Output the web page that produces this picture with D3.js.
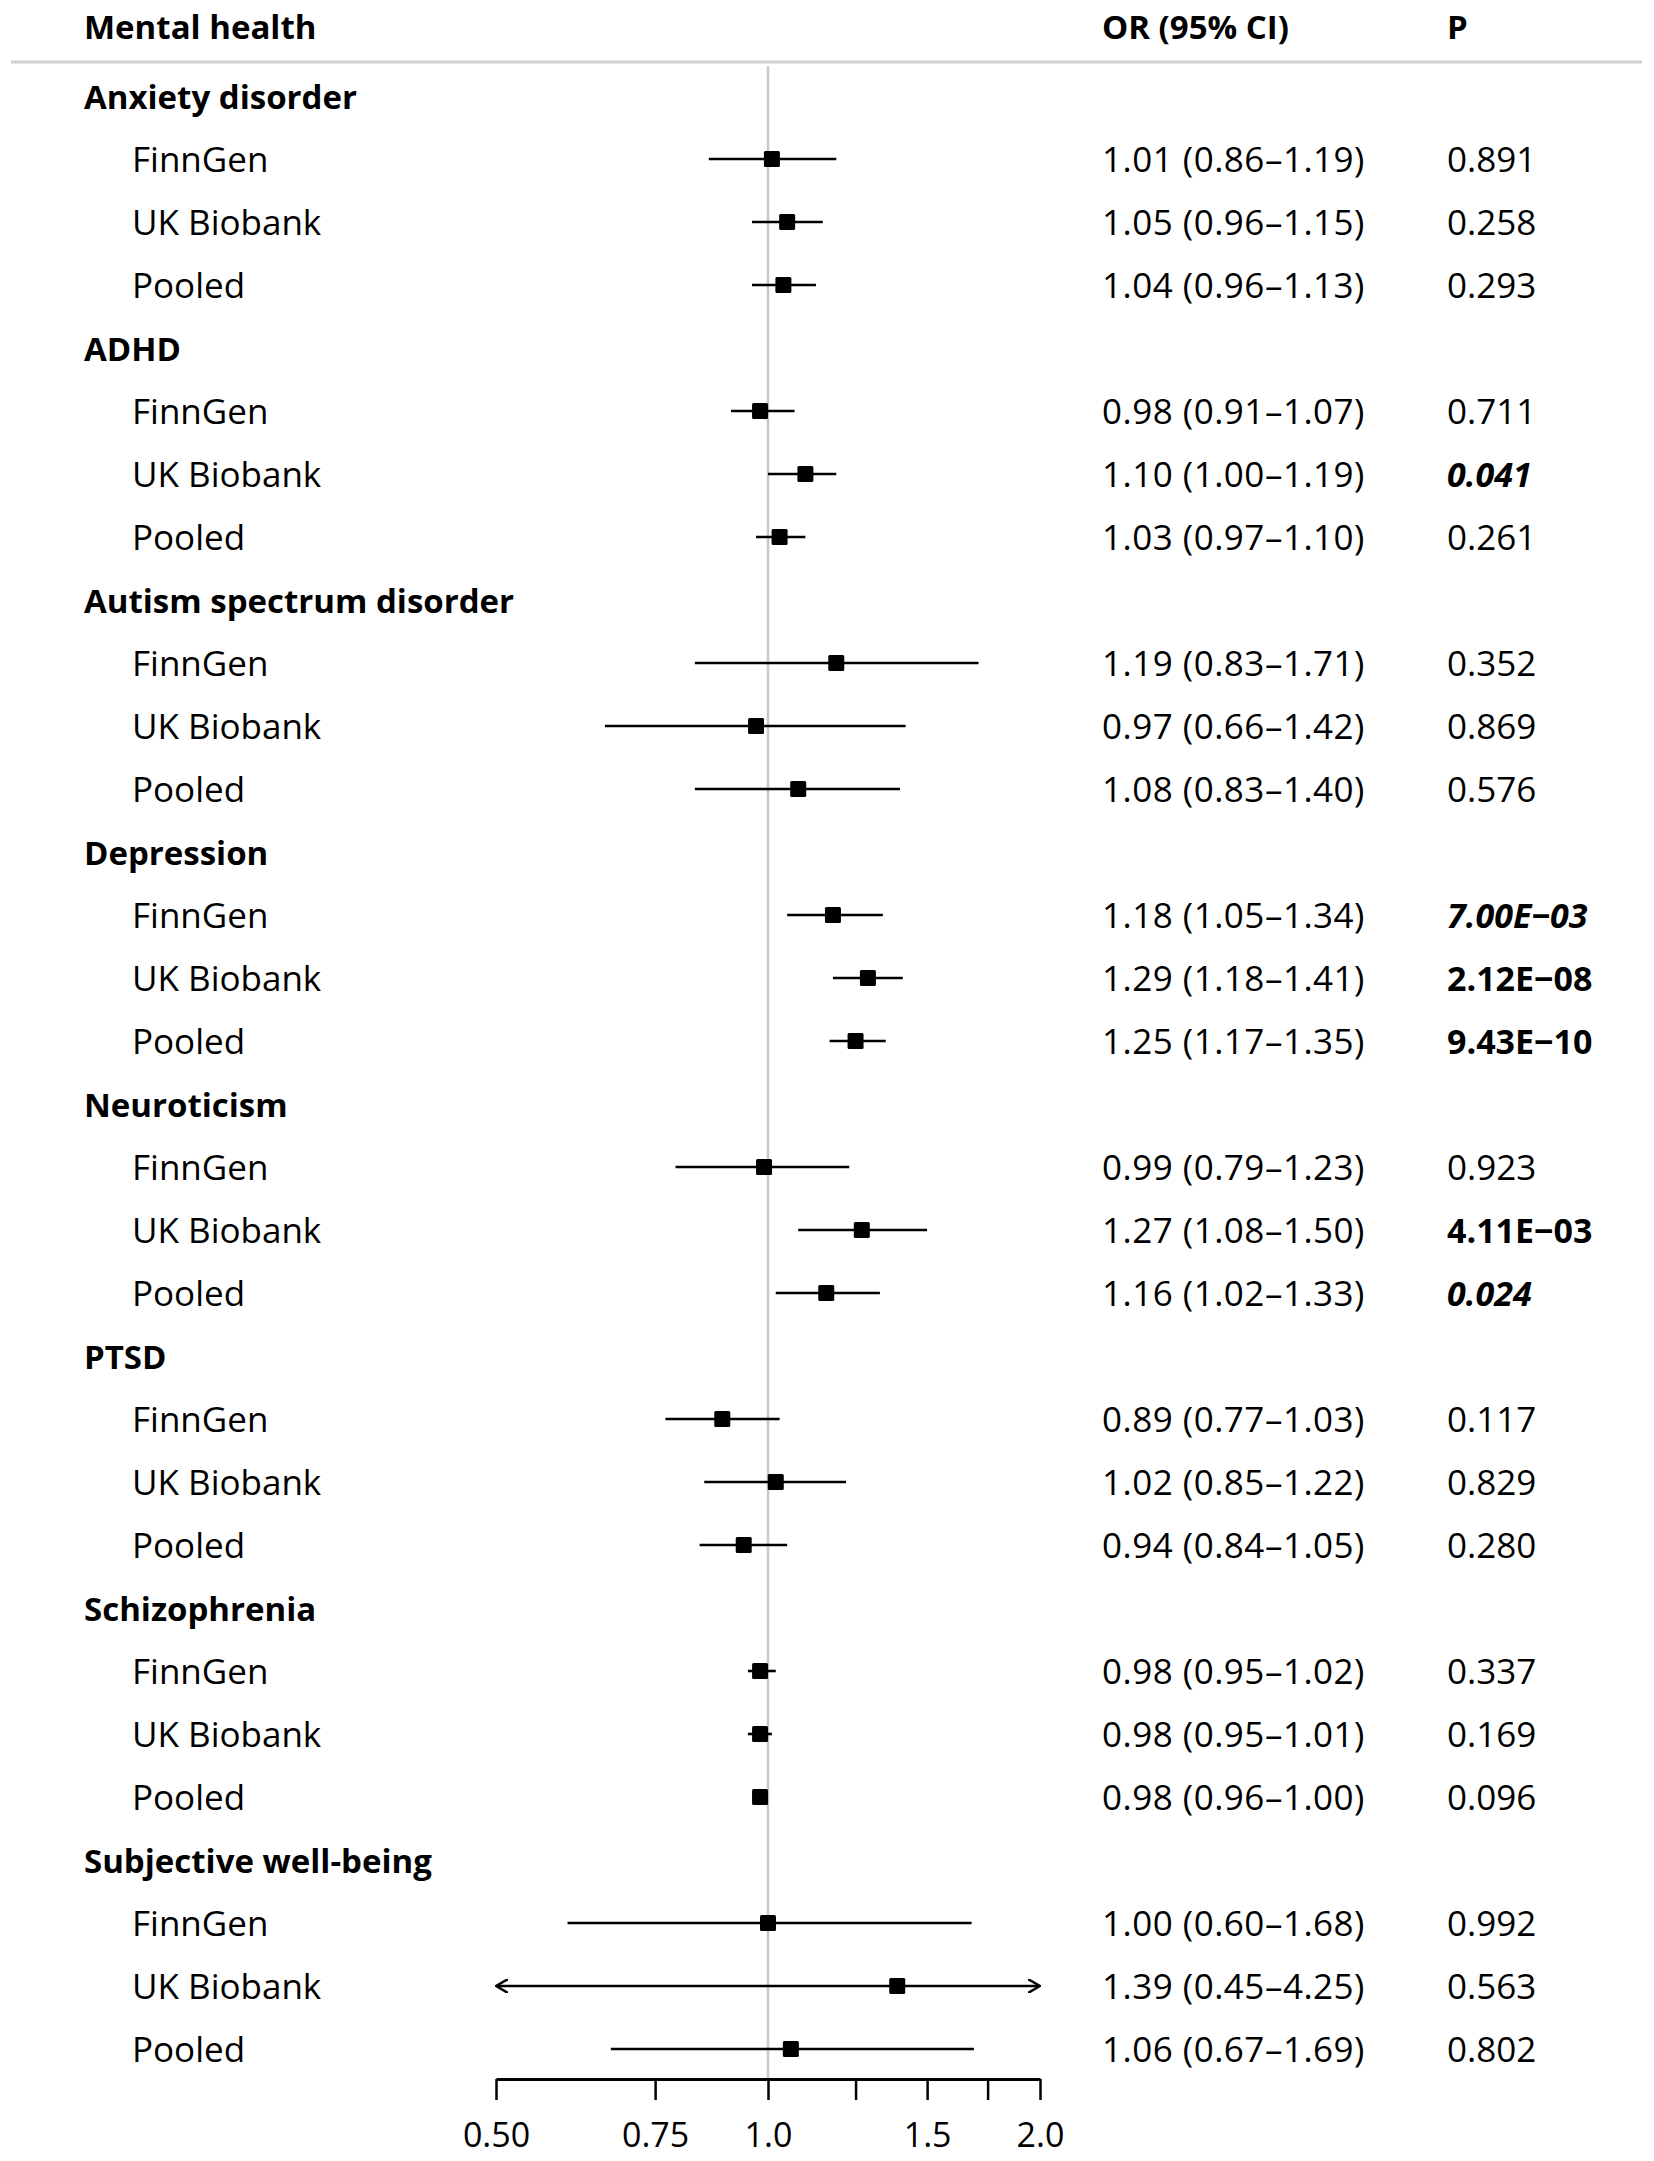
<!DOCTYPE html>
<html>
<head>
<meta charset="utf-8">
<script src="https://cdn.jsdelivr.net/npm/d3@7"></script>
<style>
  body { margin: 0; background: #fff; }
  text { font-family: "Open Sans", "Noto Sans", sans-serif; fill: #000; }
</style>
</head>
<body>
<svg id="forest"></svg>
<script>
// data
const groups = ["Anxiety disorder", "ADHD", "Autism spectrum disorder", "Depression",
                "Neuroticism", "PTSD", "Schizophrenia", "Subjective well-being"];
const cohorts = ["FinnGen", "UK Biobank", "Pooled"];
const orValues = [
    [1.01, 1.05, 1.04], [0.98, 1.10, 1.03], [1.19, 0.97, 1.08], [1.18, 1.29, 1.25],
    [0.99, 1.27, 1.16], [0.89, 1.02, 0.94], [0.98, 0.98, 0.98], [1.00, 1.39, 1.06]
];
const ciLow = [
    [0.86, 0.96, 0.96], [0.91, 1.00, 0.97], [0.83, 0.66, 0.83], [1.05, 1.18, 1.17],
    [0.79, 1.08, 1.02], [0.77, 0.85, 0.84], [0.95, 0.95, 0.96], [0.60, 0.45, 0.67]
];
const ciHigh = [
    [1.19, 1.15, 1.13], [1.07, 1.19, 1.10], [1.71, 1.42, 1.40], [1.34, 1.41, 1.35],
    [1.23, 1.50, 1.33], [1.03, 1.22, 1.05], [1.02, 1.01, 1.00], [1.68, 4.25, 1.69]
];
const pValues = [
    ["0.891", "0.258", "0.293"], ["0.711", "0.041", "0.261"], ["0.352", "0.869", "0.576"],
    ["7.00E\u221203", "2.12E\u221208", "9.43E\u221210"], ["0.923", "4.11E\u221203", "0.024"],
    ["0.117", "0.829", "0.280"], ["0.337", "0.169", "0.096"], ["0.992", "0.563", "0.802"]
];
// "" normal, "b" bold, "bi" bold italic
const pStyle = [
    ["", "", ""], ["", "bi", ""], ["", "", ""], ["bi", "b", "b"],
    ["", "b", "bi"], ["", "", ""], ["", "", ""], ["", "", ""]
];
const tickValues = [0.5, 0.75, 1.0, 1.25, 1.5, 1.75, 2.0];
const tickLabels = ["0.50", "0.75", "1.0", "", "1.5", "", "2.0"];

const width = 1654, height = 2161;
const fontSize = 35, boldSize = 33;
const rowStep = 63, firstRow = 96;
const col = { group: 84, cohort: 132, or: 1102, p: 1447 };

const svg = d3.select("#forest").attr("width", width).attr("height", height);

// flatten into rows: header row per group then 3 cohorts
const rows = [];
groups.forEach((g, gi) => {
    rows.push({ type: "group", label: g });
    cohorts.forEach((c, ci) => {
        rows.push({
            type: "cohort", label: c,
            or: orValues[gi][ci], lo: ciLow[gi][ci], hi: ciHigh[gi][ci],
            p: pValues[gi][ci], style: pStyle[gi][ci]
        });
    });
});

const x = d3.scaleLog().domain([0.5, 2]).range([496, 1040]);
const y = d3.scaleLinear().domain([0, 1]).range([firstRow, firstRow + rowStep]);
const axisY = 2079;
const baseOff = 12.5; // text baseline below row centre

// header
const header = svg.append("g").attr("font-weight", "bold").attr("font-size", boldSize);
header.append("text").attr("x", col.group).attr("y", 39).text("Mental health");
header.append("text").attr("x", col.or).attr("y", 39).text("OR (95% CI)");
header.append("text").attr("x", col.p).attr("y", 39).text("P");
svg.append("line")
    .attr("x1", 11).attr("x2", 1642).attr("y1", 62).attr("y2", 62)
    .attr("stroke", "#d0d0d0").attr("stroke-width", 3);

// reference line at OR = 1
svg.append("line")
    .attr("x1", x(1)).attr("x2", x(1)).attr("y1", 66).attr("y2", axisY)
    .attr("stroke", "#c8c8c8").attr("stroke-width", 2.5);

// labels
svg.append("g").selectAll("text").data(rows).enter()
    .append("text")
    .attr("x", d => d.type === "group" ? col.group : col.cohort)
    .attr("y", (d, i) => y(i) + baseOff)
    .attr("font-size", d => d.type === "group" ? boldSize : fontSize)
    .attr("font-weight", d => d.type === "group" ? "bold" : "normal")
    .text(d => d.label);

const fmt = d3.format(".2f");
const cohortRows = rows.map((d, i) => Object.assign({ i }, d)).filter(d => d.type === "cohort");

svg.append("g").selectAll("text").data(cohortRows).enter()
    .append("text")
    .attr("x", col.or).attr("y", d => y(d.i) + baseOff)
    .attr("font-size", fontSize)
    .attr("letter-spacing", 0.5)
    .text(d => `${fmt(d.or)} (${fmt(d.lo)}\u2013${fmt(d.hi)})`);

svg.append("g").selectAll("text").data(cohortRows).enter()
    .append("text")
    .attr("x", col.p).attr("y", d => y(d.i) + baseOff)
    .attr("font-size", d => d.style ? 34 : fontSize)
    .attr("font-weight", d => d.style ? "bold" : "normal")
    .attr("font-style", d => d.style === "bi" ? "italic" : "normal")
    .text(d => d.p);

// arrow marker for CIs outside the axis
const defs = svg.append("defs");
["start", "end"].forEach(k => {
    defs.append("marker")
        .attr("id", "arrow-" + k)
        .attr("viewBox", "0 -7 13 14")
        .attr("refX", k === "end" ? 12 : 1).attr("refY", 0)
        .attr("markerWidth", 13).attr("markerHeight", 14)
        .attr("markerUnits", "userSpaceOnUse")
        .attr("orient", "auto")
        .append("path")
        .attr("d", k === "end" ? "M0,-7L12,0L0,7" : "M13,-7L1,0L13,7")
        .attr("fill", "none").attr("stroke", "#000").attr("stroke-width", 2.4);
});

const [dMin, dMax] = x.domain();
const marks = svg.append("g");
marks.selectAll("line").data(cohortRows).enter()
    .append("line")
    .attr("x1", d => x(Math.max(d.lo, dMin)))
    .attr("x2", d => x(Math.min(d.hi, dMax)))
    .attr("y1", d => y(d.i)).attr("y2", d => y(d.i))
    .attr("stroke", "#000").attr("stroke-width", 2.6)
    .attr("marker-start", d => d.lo < dMin ? "url(#arrow-start)" : null)
    .attr("marker-end", d => d.hi > dMax ? "url(#arrow-end)" : null);

const sq = 16;
marks.selectAll("rect").data(cohortRows).enter()
    .append("rect")
    .attr("x", d => x(d.or) - sq / 2)
    .attr("y", d => y(d.i) - sq / 2)
    .attr("width", sq).attr("height", sq)
    .attr("rx", 1.5)
    .attr("fill", "#000");

// x axis
const xAxis = d3.axisBottom(x)
    .tickValues(tickValues)
    .tickFormat((d, i) => tickLabels[i])
    .tickSize(21)
    .tickSizeOuter(0)
    .tickPadding(23);

const axisG = svg.append("g").attr("transform", `translate(0, ${axisY})`).call(xAxis);
axisG.select(".domain").attr("stroke-width", 3);
axisG.selectAll(".tick line").attr("stroke-width", 2.5);
axisG.selectAll(".tick text")
    .attr("font-size", 34)
    .attr("font-family", "Open Sans, Noto Sans, sans-serif")
    .attr("fill", "#000");
</script>
</body>
</html>
